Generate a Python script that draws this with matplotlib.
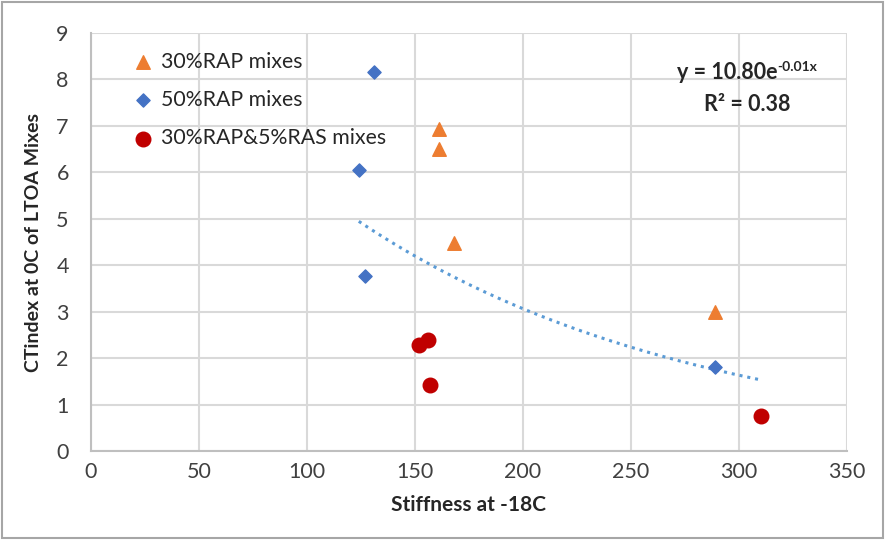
import matplotlib.pyplot as plt
import numpy as np
from matplotlib.patches import Rectangle

plt.rcParams['font.family'] = ['Lato', 'DejaVu Sans']

# 30%RAP mixes
rap30_x = [161, 161, 168, 289]
rap30_y = [6.93, 6.50, 4.48, 3.00]
# 50%RAP mixes
rap50_x = [131, 124, 127, 289]
rap50_y = [8.15, 6.05, 3.77, 1.80]
# 30%RAP&5%RAS mixes
ras_x = [152, 156, 157, 310]
ras_y = [2.28, 2.38, 1.43, 0.75]

# exponential trendline shown on the chart (y = a*e^(b*x))
trend_a = 10.80
trend_b = -0.0063
trend_range = (124, 310)

fig = plt.figure(figsize=(8.85, 5.4), dpi=100)
ax = fig.add_axes([0.1028, 0.1648, 0.8542, 0.7741])

ax.scatter(rap30_x, rap30_y, marker='^', s=95, color='#ED7D31', label='30%RAP mixes', zorder=3)
ax.scatter(rap50_x, rap50_y, marker='D', s=45, color='#4472C4', label='50%RAP mixes', zorder=3)
ax.scatter(ras_x, ras_y, marker='o', s=110, color='#C00000', label='30%RAP&5%RAS mixes', zorder=3)

xt = np.linspace(trend_range[0], trend_range[1], 200)
ax.plot(xt, trend_a * np.exp(trend_b * xt), linestyle=(0, (1, 1.6)), color='#5B9BD5',
        linewidth=2.2, zorder=2)

ax.set_xlim(0, 350)
ax.set_ylim(0, 9)
ax.set_xticks(np.arange(0, 351, 50))
ax.set_yticks(np.arange(0, 10, 1))
ax.grid(True, color='#D9D9D9', linewidth=1.5)
ax.set_axisbelow(True)
for s in ['top', 'right']:
    ax.spines[s].set_visible(False)
for s in ['left', 'bottom']:
    ax.spines[s].set_color('#BFBFBF')
    ax.spines[s].set_linewidth(1.5)
ax.tick_params(length=0, labelsize=15.5, colors='#404040')
ax.tick_params(axis='y', pad=16)
ax.tick_params(axis='x', pad=8)

ax.set_xlabel('Stiffness at -18C', fontsize=15, fontweight='bold', color='#262626', labelpad=9)
ax.set_ylabel('CTindex at 0C of LTOA Mixes', fontsize=14, fontweight='bold', color='#262626', labelpad=10)

ax.legend(loc='upper left', bbox_to_anchor=(0.03, 0.985), frameon=False, fontsize=15.3,
          handletextpad=0.05, labelspacing=0.85, borderaxespad=0.2, labelcolor='#262626',
          handlelength=1.6)

t1 = ax.text(0.775, 0.905, 'y = 10.80e', transform=ax.transAxes, ha='left', va='center',
             fontsize=15.5, fontweight='bold', color='#262626')
ax.annotate('-0.01x', xy=(1.0, 0.75), xycoords=t1, ha='left', va='center',
            fontsize=10, fontweight='bold', color='#262626')
ax.text(0.868, 0.83, 'R² = 0.38', transform=ax.transAxes, ha='center', va='center',
        fontsize=15.5, fontweight='bold', color='#262626')

fig.patches.append(Rectangle((0.002, 0.004), 0.996, 0.992, transform=fig.transFigure,
                             fill=False, edgecolor='#A6A6A6', linewidth=1.5))

fig.savefig('out.png', dpi=100)
